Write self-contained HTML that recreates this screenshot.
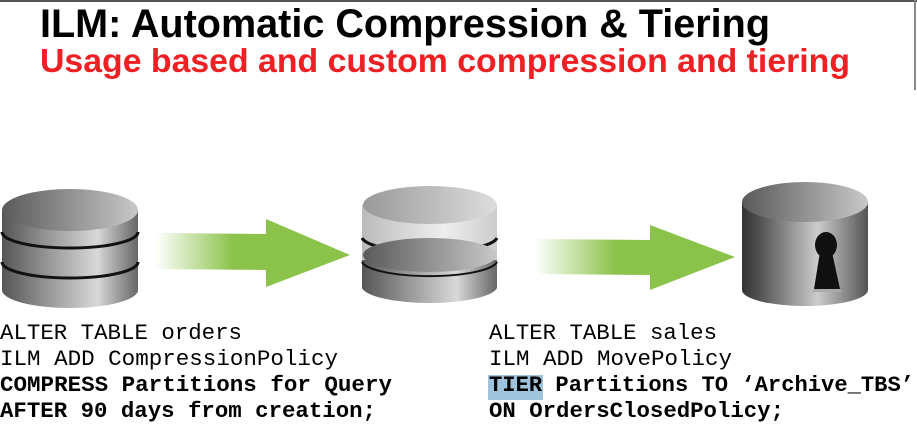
<!DOCTYPE html>
<html><head><meta charset="utf-8"><style>
html,body{margin:0;padding:0;background:#fff;}
svg{display:block}
</style></head><body>
<svg width="917" height="444" viewBox="0 0 917 444" xmlns="http://www.w3.org/2000/svg">
<defs>
<linearGradient id="cyl" x1="0" x2="1" y1="0" y2="0">
<stop offset="0" stop-color="#555"/><stop offset="0.35" stop-color="#999"/><stop offset="0.7" stop-color="#d8d8d8"/><stop offset="1" stop-color="#666"/>
</linearGradient>
<linearGradient id="top" x1="0" x2="1" y1="0" y2="0">
<stop offset="0" stop-color="#5a5a5a"/><stop offset="1" stop-color="#c8c8c8"/>
</linearGradient>
<linearGradient id="light" x1="0" x2="1" y1="0" y2="0">
<stop offset="0" stop-color="#bbb"/><stop offset="0.6" stop-color="#eee"/><stop offset="1" stop-color="#ccc"/>
</linearGradient>
<linearGradient id="ltop" x1="0" x2="1" y1="0" y2="0">
<stop offset="0" stop-color="#999"/><stop offset="1" stop-color="#ddd"/>
</linearGradient>
<linearGradient id="cyl3" x1="0" x2="1" y1="0" y2="0">
<stop offset="0" stop-color="#333"/><stop offset="0.15" stop-color="#555"/><stop offset="0.6" stop-color="#ccc"/><stop offset="1" stop-color="#555"/>
</linearGradient>
<linearGradient id="arr" x1="0" x2="1" y1="0" y2="0">
<stop offset="0" stop-color="#8bc34a" stop-opacity="0"/><stop offset="0.4" stop-color="#8bc34a"/><stop offset="1" stop-color="#8bc34a"/>
</linearGradient>
</defs>
<rect x="0" y="0" width="917" height="2" fill="#555"/>
<rect x="914" y="0" width="2" height="90" fill="#888"/>
<text x="40" y="37" font-family="Liberation Sans, sans-serif" font-weight="bold" font-size="40" textLength="730" lengthAdjust="spacingAndGlyphs">ILM: Automatic Compression &amp; Tiering</text>
<text x="40" y="72" font-family="Liberation Sans, sans-serif" font-weight="bold" font-size="33" fill="#ee2024" textLength="810" lengthAdjust="spacingAndGlyphs">Usage based and custom compression and tiering</text>

<!-- cylinder 1 -->
<g>
<path d="M2 210 L2 290 A68 18 0 0 0 138 290 L138 210 Z" fill="url(#cyl)"/>
<path d="M2 232 A68 16 0 0 0 138 232" fill="none" stroke="#111" stroke-width="3"/>
<path d="M2 262 A68 16 0 0 0 138 262" fill="none" stroke="#111" stroke-width="3"/>
<ellipse cx="70" cy="210" rx="68" ry="21" fill="url(#top)"/>
</g>
<!-- arrow 1 -->
<path d="M155 233 L266 234 L266 219 L350 255 L266 287 L266 270 L155 269 Z" fill="url(#arr)"/>
<!-- cylinder 2 -->
<g>
<path d="M362 205 L362 288 A68 17 0 0 0 497 288 L497 205 Z" fill="url(#light)"/>
<path d="M362 260 L362 288 A68 17 0 0 0 497 288 L497 260 Z" fill="url(#cyl)"/>
<path d="M362 238 A68 16 0 0 0 497 238" fill="none" stroke="#111" stroke-width="3"/>
<ellipse cx="430" cy="255" rx="67" ry="17" fill="url(#top)"/>
<path d="M362 262 A68 16 0 0 0 497 262" fill="none" stroke="#111" stroke-width="2"/>
<ellipse cx="430" cy="205" rx="67" ry="19" fill="url(#ltop)"/>
</g>
<!-- arrow 2 -->
<path d="M535 239 L650 240 L650 225 L735 257 L650 290 L650 275 L535 274 Z" fill="url(#arr)"/>
<!-- cylinder 3 -->
<g>
<path d="M742 202 L742 290 A63 16 0 0 0 868 290 L868 202 Z" fill="url(#cyl3)"/>
<ellipse cx="805" cy="202" rx="63" ry="20" fill="url(#top)"/>
<path d="M820 252 L814 289 L840 289 L832 252 Z" fill="#111"/>
<ellipse cx="826" cy="245" rx="11" ry="13" fill="#111"/>
<path d="M814 289 L840 289 L842 292 L812 292 Z" fill="#aaa"/>
</g>

<rect x="488" y="375" width="55" height="25" fill="#9ec3da"/>
<g font-family="Liberation Mono, monospace" font-size="22" fill="#000">
<text x="0" y="339" textLength="242" lengthAdjust="spacingAndGlyphs">ALTER TABLE orders</text>
<text x="0" y="365" textLength="338" lengthAdjust="spacingAndGlyphs">ILM ADD CompressionPolicy</text>
<text x="0" y="391" font-weight="bold" textLength="392" lengthAdjust="spacingAndGlyphs">COMPRESS Partitions for Query</text>
<text x="0" y="417" font-weight="bold" textLength="376" lengthAdjust="spacingAndGlyphs">AFTER 90 days from creation;</text>
<text x="489" y="339" textLength="228" lengthAdjust="spacingAndGlyphs">ALTER TABLE sales</text>
<text x="489" y="365" textLength="243" lengthAdjust="spacingAndGlyphs">ILM ADD MovePolicy</text>
<text x="489" y="391" font-weight="bold" textLength="425" lengthAdjust="spacingAndGlyphs">TIER Partitions TO ‘Archive_TBS’</text>
<text x="489" y="417" font-weight="bold" textLength="295" lengthAdjust="spacingAndGlyphs">ON OrdersClosedPolicy;</text>
</g>
</svg>
</body></html>
